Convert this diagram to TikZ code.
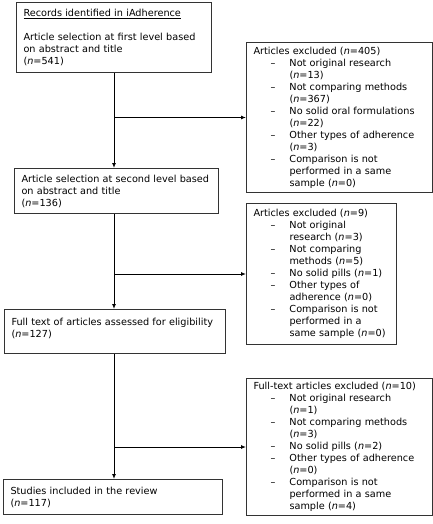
\documentclass[tikz,border=0pt]{standalone}
\usepackage{fontspec}
\setmainfont{DejaVu Sans}
\usetikzlibrary{arrows.meta}
\newcommand{\exitem}[1]{\hspace*{17pt}\makebox[19pt][l]{--}#1}
\newcommand{\excont}[1]{\hspace*{36pt}#1}
\newcommand{\nn}{\textit{n}}
\tikzset{
  flowbox/.style={draw=black!80, line width=1pt, anchor=north west, align=left,
    inner xsep=7pt, inner ysep=0pt, font=\fontsize{9.7}{12}\selectfont},
  flowarrow/.style={line width=0.9pt, -{Latex[length=5pt,width=4pt]}}
}
\begin{document}
\begin{tikzpicture}[x=1pt, y=-1pt]
    \useasboundingbox (0,0) rectangle (433,524);
    % Drawing the main boxes
    \node [flowbox, minimum width=195pt, minimum height=70pt, text width=181pt] (rec) at (16,2)
      {\underline{Records identified in iAdherence}\\[12pt]Article selection at first level based\\on abstract and title\\(\nn=541)};
    \node [flowbox, minimum width=204pt, minimum height=45pt, text width=190pt] (sel) at (14,168)
      {Article selection at second level based\\on abstract and title\\(\nn=136)};
    \node [flowbox, minimum width=221pt, minimum height=44pt, text width=207pt] (full) at (4,309)
      {Full text of articles assessed for eligibility\\(\nn=127)\\[-4pt]\mbox{}};
    \node [flowbox, minimum width=219pt, minimum height=35pt, text width=205pt] (incl) at (3,479)
      {Studies included in the review\\(\nn=117)};
    % Drawing the exclusion boxes
    \node [flowbox, minimum width=186pt, minimum height=150pt, text width=172pt] (excA) at (246,42)
      {Articles excluded (\nn=405)\\
       \exitem{Not original research}\\\excont{(\nn=13)}\\
       \exitem{Not comparing methods}\\\excont{(\nn=367)}\\
       \exitem{No solid oral formulations}\\\excont{(\nn=22)}\\
       \exitem{Other types of adherence}\\\excont{(\nn=3)}\\
       \exitem{Comparison is not}\\\excont{performed in a same}\\\excont{sample (\nn=0)}};
    \node [flowbox, minimum width=150pt, minimum height=141pt, text width=136pt] (excB) at (246,203)
      {Articles excluded (\nn=9)\\
       \exitem{Not original}\\\excont{research (\nn=3)}\\
       \exitem{Not comparing}\\\excont{methods (\nn=5)}\\
       \exitem{No solid pills (\nn=1)}\\
       \exitem{Other types of}\\\excont{adherence (\nn=0)}\\
       \exitem{Comparison is not}\\\excont{performed in a}\\\excont{same sample (\nn=0)}};
    \node [flowbox, minimum width=186pt, minimum height=137pt, text width=172pt] (excC) at (246,378)
      {Full-text articles excluded (\nn=10)\\
       \exitem{Not original research}\\\excont{(\nn=1)}\\
       \exitem{Not comparing methods}\\\excont{(\nn=3)}\\
       \exitem{No solid pills (\nn=2)}\\
       \exitem{Other types of adherence}\\\excont{(\nn=0)}\\
       \exitem{Comparison is not}\\\excont{performed in a same}\\\excont{sample (\nn=4)}};
    % Drawing the connectors
    \draw [flowarrow] (rec.south) -- (rec.south |- sel.north);
    \draw [flowarrow] (rec.south |- sel.south) -- (rec.south |- full.north);
    \draw [flowarrow] (rec.south |- full.south) -- (rec.south |- incl.north);
    \draw [flowarrow] (rec.south |- excA.west) -- (excA.west);
    \draw [flowarrow] (rec.south |- excB.west) -- (excB.west);
    \draw [flowarrow] (rec.south |- excC.west) -- (excC.west);
  \end{tikzpicture}
\end{document}
